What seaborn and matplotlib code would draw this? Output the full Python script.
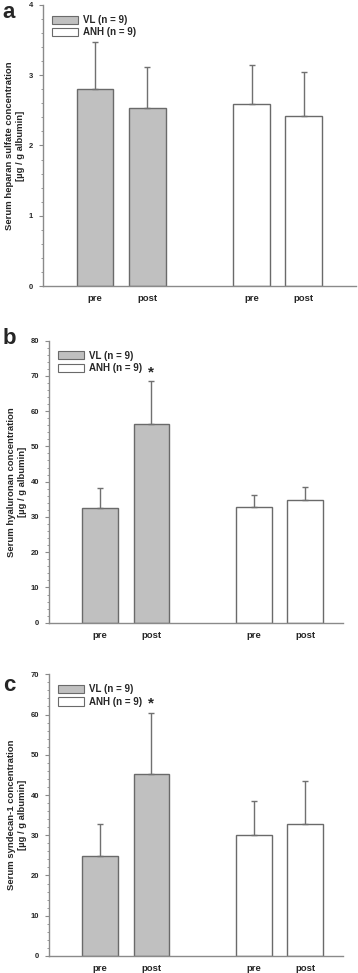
import numpy as np
import pandas as pd
import matplotlib
matplotlib.use("Agg")
import matplotlib.pyplot as plt
import seaborn as sns
from matplotlib.patches import Patch
from matplotlib.ticker import MultipleLocator

# Daten
conditions = ["pre", "post", "pre", "post"]
groups = ["VL (n = 9)", "VL (n = 9)", "ANH (n = 9)", "ANH (n = 9)"]
xpos = [0, 1, 3, 4]

heparan_mean = [2.80, 2.53, 2.59, 2.42]
heparan_sd = [0.67, 0.59, 0.56, 0.63]
hyaluronan_mean = [32.5, 56.3, 32.7, 34.8]
hyaluronan_sd = [5.6, 12.3, 3.6, 3.7]
syndecan_mean = [24.8, 45.3, 30.1, 32.8]
syndecan_sd = [8.1, 15.0, 8.4, 10.7]

panels = [
    ("a", heparan_mean, heparan_sd, "Serum heparan sulfate concentration\n[µg / g albumin]",
     4, 1, 0.2, None, [0.120, 0.706, 0.874, 0.289], 5.0, 0.998),
    ("b", hyaluronan_mean, hyaluronan_sd, "Serum hyaluronan concentration\n[µg / g albumin]",
     80, 10, 2, 71.0, [0.137, 0.360, 0.821, 0.290], 4.74, 0.663),
    ("c", syndecan_mean, syndecan_sd, "Serum syndecan-1 concentration\n[µg / g albumin]",
     70, 10, 2, 62.8, [0.137, 0.0175, 0.821, 0.2895], 4.74, 0.306),
]

sns.set_style("white")
plt.rcParams["font.family"] = ["Liberation Sans", "DejaVu Sans"]

fill = {"VL (n = 9)": "#c0c0c0", "ANH (n = 9)": "#ffffff"}
edge = "#6a6a6a"
axis_col = "#8a8a8a"

fig = plt.figure(figsize=(3.58, 9.73), dpi=100)

for letter, mean, sd, ylabel, ymax, major, minor, star, rect, xmax, ly in panels:
    ax = fig.add_axes(rect)
    df = pd.DataFrame({"x": xpos, "value": mean, "group": groups})
    sns.barplot(data=df, x="x", y="value", hue="group", palette=fill,
                native_scale=True, dodge=False, width=0.7, errorbar=None,
                edgecolor=edge, linewidth=1.0, legend=False, ax=ax)
    ax.errorbar(xpos, mean, yerr=[np.zeros(len(sd)), sd], fmt="none",
                ecolor="#707070", elinewidth=1.0, capsize=2.5, capthick=1.0)
    if star is not None:
        ax.text(1, star, "*", ha="center", va="center", fontsize=11, fontweight="bold")

    ax.set_xlim(-1, xmax)
    ax.set_ylim(0, ymax)
    ax.yaxis.set_major_locator(MultipleLocator(major))
    ax.yaxis.set_minor_locator(MultipleLocator(minor))
    ax.set_xticks(xpos)
    ax.set_xticklabels(conditions, fontsize=6.8, fontweight="bold")
    ax.tick_params(axis="x", length=0, pad=6)
    ax.tick_params(axis="y", which="major", length=3, width=0.8, color=axis_col,
                   labelsize=5.5, pad=4, left=True)
    ax.tick_params(axis="y", which="minor", length=1.8, width=0.6, color=axis_col, left=True)
    for t in ax.get_yticklabels():
        t.set_fontweight("bold")
    ax.set_xlabel("")
    ax.set_ylabel(ylabel, fontsize=6.8, fontweight="bold", labelpad=3, linespacing=1.2)
    sns.despine(ax=ax)
    for s in ["left", "bottom"]:
        ax.spines[s].set_color(axis_col)
        ax.spines[s].set_linewidth(1.0)

    handles = [Patch(facecolor=fill[g], edgecolor=edge, linewidth=0.8) for g in ["VL (n = 9)", "ANH (n = 9)"]]
    ax.legend(handles, ["VL (n = 9)", "ANH (n = 9)"], loc="upper left",
              bbox_to_anchor=(0.0, 0.995), frameon=False, handlelength=2.7,
              handleheight=0.9, handletextpad=0.5, labelspacing=0.25,
              prop={"size": 7, "weight": "bold"})

    fig.text(0.008, ly, letter, fontsize=16, fontweight="bold", ha="left", va="top")

fig.savefig("out.png", dpi=100)
